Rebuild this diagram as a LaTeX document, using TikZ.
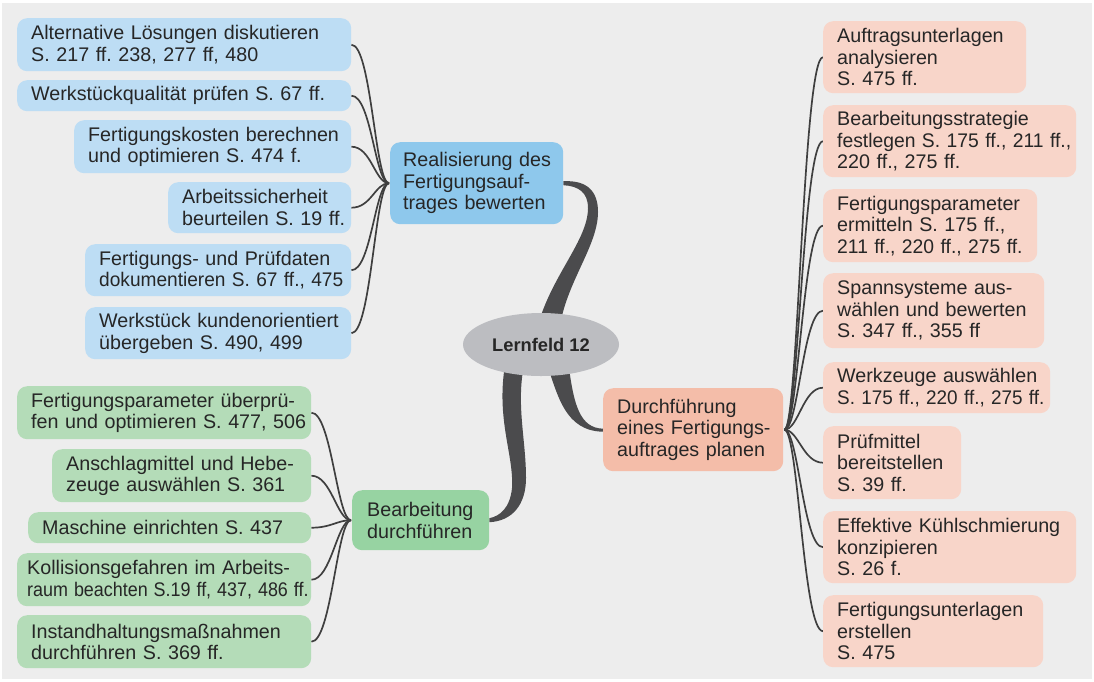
\documentclass[tikz,border=0pt]{standalone}
\usepackage{fontspec}
\setmainfont{Liberation Sans}
\usetikzlibrary{shapes.geometric,calc}
\definecolor{bgc}{HTML}{EDEDED}
\definecolor{txt}{HTML}{262626}
\definecolor{lb}{HTML}{BDDDF4}
\definecolor{mb}{HTML}{8EC8EC}
\definecolor{ls}{HTML}{F8D5C9}
\definecolor{ms}{HTML}{F4BDA9}
\definecolor{lg}{HTML}{B4DCB8}
\definecolor{mg}{HTML}{97D3A2}
\definecolor{ell}{HTML}{BCBDC1}
\definecolor{trk}{HTML}{4B4B4D}
\definecolor{con}{HTML}{3F3F3F}
\newcommand\bxfont{\frenchspacing\fontsize{19.7}{21.5}\selectfont}
\newcommand\lffont{\fontsize{18.3}{20}\selectfont\bfseries}
\newcommand\ml[1]{\mbox{#1}}
\newcommand\sq[2]{\mbox{\scalebox{#1}[1]{#2}}}
\pgfdeclarelayer{bglayer}
\pgfdeclarelayer{midlayer}
\pgfsetlayers{bglayer,midlayer,main}
\tikzset{
  bx/.style={rounded corners=10pt, inner xsep=14pt, inner ysep=0pt, align=left,
    font=\bxfont, text=txt, anchor=north west},
  conn/.style={draw=con, line width=1.7pt},
  trunk/.style={fill=trk},
}
\begin{document}
\begin{tikzpicture}[x=1pt,y=-1pt]
\useasboundingbox (0,0) rectangle (1094,681);
\begin{pgfonlayer}{bglayer}
\fill[white] (0,0) rectangle (1094,681);
\fill[bgc] (2,3) rectangle (1092,679);
\end{pgfonlayer}

% centre
\node[ellipse, fill=ell, minimum width=156pt, minimum height=63pt, inner sep=0pt,
  font=\lffont, text=txt] (lf) at (541,344.5) {Lernfeld 12};

% main nodes
\node[bx, fill=mb, minimum height=82pt, inner xsep=13pt, text width=147pt] (bm) at (390,142)
  {\ml{Realisierung des}\\\ml{Fertigungsauf-}\\\ml{trages bewerten}};
\node[bx, fill=ms, text width=152pt, minimum height=83pt] (sm) at (603,388)
  {\ml{Durchführung}\\\ml{eines Fertigungs-}\\\ml{auftrages planen}};
\node[bx, fill=mg, text width=107pt, minimum height=60pt, inner xsep=15pt] (gm) at (352,490)
  {\ml{Bearbeitung}\\\ml{durchführen}};

% blue children
\node[bx, fill=lb, text width=306pt, minimum height=53pt] (b1) at (17,18)
  {\ml{Alternative Lösungen diskutieren}\\\ml{S. 217 ff. 238, 277 ff, 480}};
\node[bx, fill=lb, text width=306pt, minimum height=31pt] (b2) at (17,80)
  {\ml{Werkstückqualität prüfen S. 67 ff.}};
\node[bx, fill=lb, text width=249pt, minimum height=53pt] (b3) at (74,120)
  {\ml{Fertigungskosten berechnen}\\\ml{und optimieren S. 474 f.}};
\node[bx, fill=lb, text width=155pt, minimum height=51pt] (b4) at (168,182)
  {\ml{Arbeitssicherheit}\\\ml{beurteilen S. 19 ff.}};
\node[bx, fill=lb, text width=238pt, minimum height=52pt] (b5) at (85,244)
  {\ml{Fertigungs- und Prüfdaten}\\\sq{0.97}{dokumentieren S. 67 ff., 475}};
\node[bx, fill=lb, text width=238pt, minimum height=52pt] (b6) at (85,307)
  {\ml{Werkstück kundenorientiert}\\\ml{übergeben S. 490, 499}};

% salmon children
\node[bx, fill=ls, text width=175pt, minimum height=72pt] (r1) at (823,21)
  {\ml{Auftragsunterlagen}\\\ml{analysieren}\\\ml{S. 475 ff.}};
\node[bx, fill=ls, text width=225pt, minimum height=72pt] (r2) at (823,105)
  {\ml{Bearbeitungsstrategie}\\\sq{0.98}{festlegen S. 175 ff., 211 ff.,}\\\ml{220 ff., 275 ff.}};
\node[bx, fill=ls, text width=186pt, minimum height=73pt] (r3) at (823,189)
  {\ml{Fertigungsparameter}\\\ml{ermitteln S. 175 ff.,}\\\sq{0.98}{211 ff., 220 ff., 275 ff.}};
\node[bx, fill=ls, text width=193pt, minimum height=75pt] (r4) at (823,273)
  {\ml{Spannsysteme aus-}\\\ml{wählen und bewerten}\\\ml{S. 347 ff., 355 ff}};
\node[bx, fill=ls, text width=199pt, minimum height=51pt] (r5) at (823,362)
  {\ml{Werkzeuge auswählen}\\\sq{0.96}{S. 175 ff., 220 ff., 275 ff.}};
\node[bx, fill=ls, text width=110pt, minimum height=73pt] (r6) at (823,426)
  {\ml{Prüfmittel}\\\ml{bereitstellen}\\\ml{S. 39 ff.}};
\node[bx, fill=ls, text width=225pt, minimum height=72pt] (r7) at (823,511)
  {\ml{Effektive Kühlschmierung}\\\ml{konzipieren}\\\ml{S. 26 f.}};
\node[bx, fill=ls, text width=192pt, minimum height=72pt] (r8) at (823,595)
  {\ml{Fertigungsunterlagen}\\\ml{erstellen}\\\ml{S. 475}};

% green children
\node[bx, fill=lg, text width=266pt, minimum height=53pt] (g1) at (17,386)
  {\ml{Fertigungsparameter überprü-}\\\ml{fen und optimieren S. 477, 506}};
\node[bx, fill=lg, text width=231pt, minimum height=53pt] (g2) at (52,449)
  {\ml{Anschlagmittel und Hebe-}\\\ml{zeuge auswählen S. 361}};
\node[bx, fill=lg, text width=255pt, minimum height=31pt] (g3) at (28,512)
  {\ml{Maschine einrichten S. 437}};
\node[bx, fill=lg, text width=274pt, minimum height=53pt, inner xsep=10pt] (g4) at (17,553)
  {\ml{Kollisionsgefahren im Arbeits-}\\\sq{0.91}{raum beachten S.19 ff, 437, 486 ff.}};
\node[bx, fill=lg, text width=266pt, minimum height=53pt] (g5) at (17,615)
  {\ml{Instandhaltungsmaßnahmen}\\\ml{durchführen S. 369 ff.}};

\begin{pgfonlayer}{midlayer}
% trunks
\fill[trunk] (538,325) .. controls (552,275) and (588,240) .. (588,208)
  .. controls (588,192) and (578,186) .. ($(bm.east)+(0,2)$)
  -- ($(bm.east)+(0,-2)$) .. controls (588,180) and (598,192) .. (598,212)
  .. controls (598,245) and (568,280) .. (560,325) -- cycle;
\fill[trunk] (505,365) .. controls (496,420) and (514,455) .. (512,488)
  .. controls (510,508) and (500,516) .. ($(gm.east)+(0,-2)$)
  -- ($(gm.east)+(0,2)$) .. controls (512,521) and (526,505) .. (526,478)
  .. controls (526,440) and (516,405) .. (524,365) -- cycle;
\fill[trunk] (548,368) .. controls (558,395) and (565,431) .. ($(sm.west)+(0,2)$)
  -- ($(sm.west)+(0,-1)$) .. controls (580,428) and (574,405) .. (569,368) -- cycle;
% thin connectors
\foreach \n in {b1,b2,b3,b4,b5,b6}
  \draw[conn] (\n.east) .. controls +(20,0) and +(-14,0) .. ($(bm.west)+(-1,0)$);
\foreach \n in {g1,g2,g3,g4,g5}
  \draw[conn] (\n.east) .. controls +(20,0) and +(-14,0) .. ($(gm.west)+(-1,0)$);
\foreach \n in {r1,r2,r3,r4,r5,r6,r7,r8}
  \draw[conn] ($(sm.east)+(1,0)$) .. controls +(14,0) and +(-20,0) .. (\n.west);
\end{pgfonlayer}
\end{tikzpicture}
\end{document}
